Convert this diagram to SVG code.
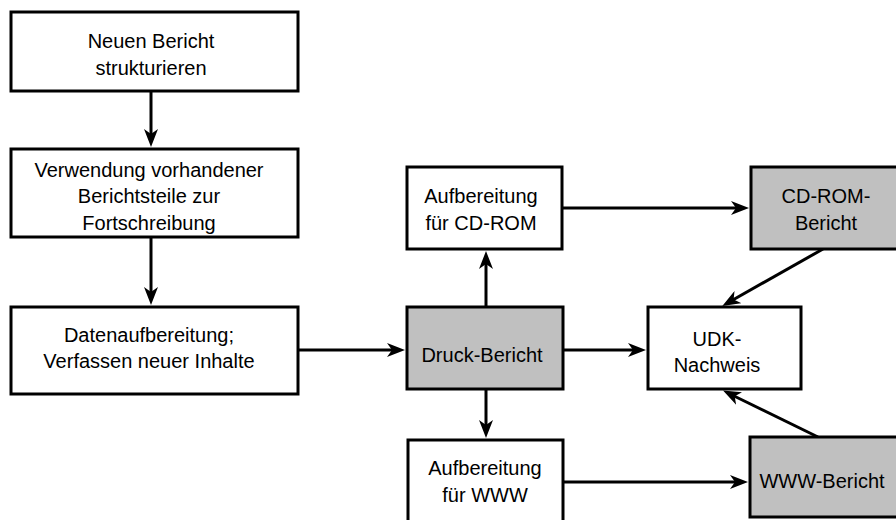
<svg xmlns="http://www.w3.org/2000/svg" width="896" height="520" viewBox="0 0 896 520">
  <style>
    .box { fill: #ffffff; stroke: #000000; stroke-width: 3; }
    .gray { fill: #c0c0c0; stroke: #000000; stroke-width: 3; }
    .lbl { font-family: "Liberation Sans", Arial, sans-serif; font-size: 20px; fill: #000000; text-anchor: middle; }
    .conn { stroke: #000000; stroke-width: 3; fill: none; marker-end: url(#arr); }
  </style>
  <defs>
    <marker id="arr" markerUnits="userSpaceOnUse" viewBox="0 0 18 14" refX="8" refY="7" markerWidth="18" markerHeight="14" orient="auto">
      <path d="M0,0 L18,7 L0,14 L5,7 Z" fill="#000000"/>
    </marker>
  </defs>
  <rect width="896" height="520" fill="#ffffff"/>

  <g id="connectors">
    <line class="conn" x1="151" y1="92" x2="151" y2="137"/>
    <line class="conn" x1="151" y1="238" x2="151" y2="295"/>
    <line class="conn" x1="299" y1="350" x2="395" y2="350"/>
    <line class="conn" x1="486" y1="306" x2="486" y2="261"/>
    <line class="conn" x1="486" y1="390" x2="486" y2="428"/>
    <line class="conn" x1="564" y1="350" x2="636" y2="350"/>
    <line class="conn" x1="563" y1="208" x2="739" y2="208"/>
    <line class="conn" x1="564" y1="482" x2="738" y2="482"/>
    <line class="conn" x1="823" y1="249" x2="731" y2="301"/>
    <line class="conn" x1="818" y1="437" x2="732" y2="395"/>
  </g>

  <g id="n1">
    <rect class="box" x="11" y="12" width="287" height="79"/>
    <text class="lbl" x="151" y="48">Neuen Bericht</text>
    <text class="lbl" x="151" y="75">strukturieren</text>
  </g>
  <g id="n2">
    <rect class="box" x="11" y="149" width="287" height="88"/>
    <text class="lbl" x="149" y="177">Verwendung vorhandener</text>
    <text class="lbl" x="149" y="203">Berichtsteile zur</text>
    <text class="lbl" x="149" y="230">Fortschreibung</text>
  </g>
  <g id="n3">
    <rect class="box" x="11" y="307" width="287" height="87"/>
    <text class="lbl" x="149" y="342">Datenaufbereitung;</text>
    <text class="lbl" x="149" y="368">Verfassen neuer Inhalte</text>
  </g>
  <g id="n4">
    <rect class="box" x="407" y="167" width="155" height="82"/>
    <text class="lbl" x="481" y="203">Aufbereitung</text>
    <text class="lbl" x="481" y="230">für CD-ROM</text>
  </g>
  <g id="n5">
    <rect class="gray" x="407" y="307" width="156" height="82"/>
    <text class="lbl" x="482" y="362">Druck-Bericht</text>
  </g>
  <g id="n6">
    <rect class="box" x="408" y="440" width="155" height="90"/>
    <text class="lbl" x="485" y="475">Aufbereitung</text>
    <text class="lbl" x="485" y="502">für WWW</text>
  </g>
  <g id="n7">
    <rect class="box" x="648" y="307" width="153" height="82"/>
    <text class="lbl" x="717" y="346">UDK-</text>
    <text class="lbl" x="717" y="372">Nachweis</text>
  </g>
  <g id="n8">
    <rect class="gray" x="751" y="167" width="150" height="82"/>
    <text class="lbl" x="826" y="203">CD-ROM-</text>
    <text class="lbl" x="826" y="230">Bericht</text>
  </g>
  <g id="n9">
    <rect class="gray" x="750" y="437" width="150" height="80"/>
    <text class="lbl" x="822" y="488">WWW-Bericht</text>
  </g>
</svg>
